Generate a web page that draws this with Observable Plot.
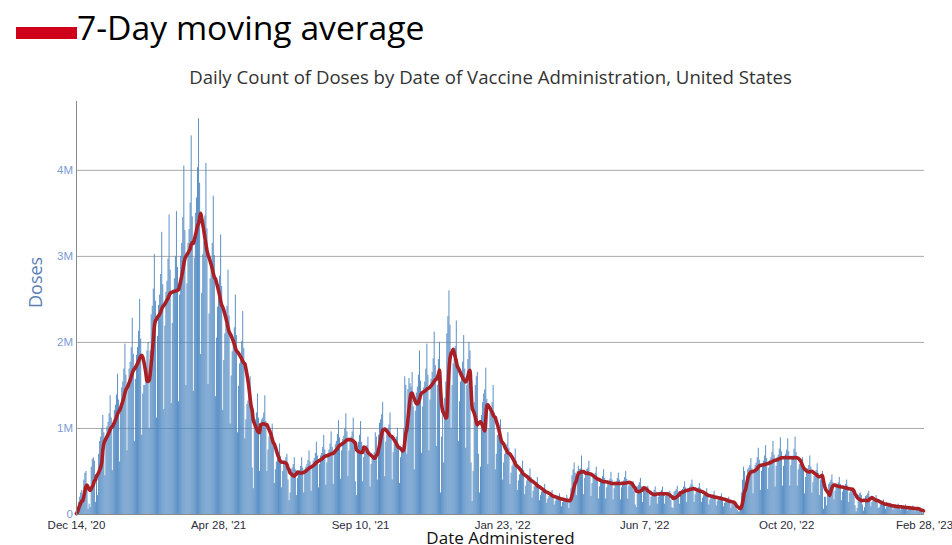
<!DOCTYPE html>
<html>
<head>
<meta charset="utf-8">
<script src="https://cdn.jsdelivr.net/npm/d3@7"></script>
<script src="https://cdn.jsdelivr.net/npm/@observablehq/plot@0.6"></script>
<style>
  html, body { margin: 0; padding: 0; background: #fff; }
  body { width: 952px; height: 545px; overflow: hidden; position: relative; font-family: "Open Sans", sans-serif; }
  #header { position: relative; height: 90px; }
  #legendSwatch { position: absolute; left: 16px; top: 27px; width: 61px; height: 12px; background: #d0021b; }
  #legendText { position: absolute; left: 77px; top: 10px; font-size: 33.7px; line-height: 34px; color: #000; white-space: nowrap; }
  #title { position: absolute; left: 490.5px; top: 68px; transform: translateX(-50%); font-size: 18.6px; line-height: 18px; color: #333; white-space: nowrap; }
  #chart svg { display: block; }
  #chart g[aria-label^="y-axis"] text { fill: #7b9bd6; }
  #chart g[aria-label^="x-axis"] text { fill: #2b2b3b; }
</style>
</head>
<body>
<div id="header">
  <div id="legendSwatch"></div>
  <div id="legendText">7-Day moving average</div>
  <div id="title">Daily Count of Doses by Date of Vaccine Administration, United States</div>
</div>
<div id="chart"></div>
<script>
// First day of the series (Monday, Dec 14 2020) and end of the x domain
const startDate = new Date(Date.UTC(2020, 11, 14));
const endDate = new Date(Date.UTC(2023, 1, 28));

// Daily doses administered, in units of 10,000 doses, one row per week (Mon..Sun)
const dosesTenThousands = [
  1, 6, 14, 20, 25, 28, 17,
  40, 48, 50, 32, 6, 12, 8,
  55, 64, 66, 62, 14, 42, 22,
  70, 85, 90, 100, 115, 95, 45,
  87, 102, 107, 117, 138, 112, 51,
  103, 121, 127, 139, 163, 133, 61,
  125, 147, 154, 169, 198, 162, 74,
  144, 169, 177, 194, 228, 186, 85,
  157, 185, 194, 213, 250, 204, 92,
  140, 150, 150, 160, 190, 200, 100,
  190, 232, 242, 262, 302, 248, 112,
  207, 243, 255, 279, 328, 267, 122,
  219, 258, 271, 297, 348, 284, 129,
  222, 261, 274, 300, 352, 287, 131,
  255, 300, 315, 345, 405, 330, 150,
  268, 315, 331, 362, 440, 346, 143,
  298, 350, 368, 403, 460, 385, 186,
  257, 302, 317, 347, 408, 332, 151,
  233, 274, 288, 315, 370, 301, 137,
  205, 241, 253, 277, 325, 265, 121,
  179, 210, 221, 242, 284, 231, 105,
  161, 189, 198, 217, 255, 208, 95,
  149, 175, 184, 201, 236, 193, 88,
  110, 128, 132, 138, 160, 125, 54,
  30, 105, 110, 118, 140, 112, 50,
  95, 110, 112, 118, 138, 108, 50,
  75, 90, 92, 95, 105, 80, 36,
  52, 61, 64, 70, 82, 67, 31,
  50, 60, 62, 66, 70, 40, 16,
  25, 52, 54, 58, 66, 52, 22,
  42, 49, 51, 56, 66, 54, 25,
  47, 55, 58, 63, 74, 61, 27,
  53, 62, 65, 71, 84, 68, 31,
  58, 68, 71, 78, 92, 75, 34,
  60, 71, 75, 82, 96, 78, 35,
  69, 81, 85, 93, 109, 89, 41,
  74, 87, 91, 100, 117, 96, 44,
  74, 87, 90, 96, 112, 85, 38,
  22, 76, 84, 92, 108, 84, 38,
  66, 74, 76, 80, 90, 72, 32,
  58, 66, 68, 72, 95, 90, 40,
  92, 106, 110, 116, 130, 98, 44,
  84, 96, 100, 104, 118, 90, 40,
  72, 82, 86, 90, 100, 77, 36,
  66, 72, 76, 100, 160, 150, 70,
  145, 158, 152, 148, 165, 125, 52,
  120, 141, 148, 162, 190, 155, 71,
  125, 147, 154, 169, 198, 162, 74,
  133, 157, 165, 181, 212, 173, 79,
  150, 180, 200, 25, 90, 120, 60,
  135, 154, 210, 230, 260, 220, 100,
  150, 175, 180, 195, 225, 180, 85,
  131, 154, 162, 177, 208, 169, 77,
  150, 180, 200, 190, 60, 15, 50,
  130, 150, 160, 165, 70, 25, 55,
  115, 130, 140, 145, 170, 134, 58,
  100, 118, 122, 130, 150, 118, 52,
  70, 92, 92, 96, 110, 84, 40,
  60, 70, 74, 81, 95, 77, 35,
  48, 56, 59, 64, 76, 62, 28,
  39, 46, 48, 53, 62, 51, 23,
  33, 39, 41, 45, 53, 43, 19,
  27, 32, 34, 37, 43, 35, 16,
  22, 26, 27, 30, 35, 29, 13,
  18, 21, 22, 24, 28, 23, 11,
  15, 18, 19, 21, 24, 20, 9,
  14, 16, 17, 18, 22, 18, 7,
  14, 30, 45, 52, 60, 48, 22,
  50, 56, 52, 53, 68, 48, 23,
  42, 50, 52, 54, 62, 48, 21,
  36, 43, 45, 48, 55, 42, 18,
  32, 38, 40, 44, 52, 42, 18,
  31, 36, 38, 41, 49, 40, 17,
  30, 37, 38, 42, 48, 40, 17,
  31, 37, 39, 43, 50, 41, 18,
  33, 36, 36, 36, 38, 27, 11,
  8, 32, 34, 37, 42, 32, 14,
  27, 30, 29, 30, 33, 23, 10,
  20, 24, 25, 28, 32, 26, 12,
  20, 25, 26, 28, 32, 25, 12,
  21, 24, 24, 25, 27, 16, 8,
  7, 26, 27, 29, 33, 26, 12,
  24, 28, 29, 32, 38, 31, 14,
  26, 30, 32, 35, 40, 33, 14,
  23, 27, 28, 31, 36, 30, 14,
  19, 22, 23, 25, 30, 24, 11,
  17, 20, 21, 23, 27, 22, 10,
  15, 18, 19, 21, 24, 20, 9,
  13, 15, 16, 17, 20, 17, 7,
  12, 13, 13, 8, 6, 5, 3,
  3, 10, 25, 40, 55, 50, 22,
  45, 52, 54, 57, 65, 53, 24,
  48, 57, 60, 66, 77, 63, 28,
  50, 59, 62, 68, 80, 65, 29,
  54, 63, 66, 72, 85, 69, 32,
  56, 66, 69, 76, 89, 73, 33,
  56, 67, 70, 75, 88, 73, 33,
  57, 66, 68, 76, 90, 72, 33,
  52, 58, 58, 60, 66, 53, 24,
  43, 50, 53, 57, 68, 55, 25,
  37, 44, 46, 51, 59, 48, 22,
  40, 47, 50, 6, 20, 20, 10,
  28, 35, 37, 40, 46, 37, 17,
  27, 32, 34, 37, 43, 35, 16,
  26, 30, 32, 35, 40, 33, 14,
  25, 29, 30, 31, 28, 10, 3,
  7, 22, 24, 25, 22, 11, 4,
  8, 21, 22, 24, 27, 20, 9,
  14, 16, 17, 18, 22, 18, 7,
  8, 13, 13, 14, 17, 13, 6,
  9, 10, 11, 11, 13, 11, 5,
  8, 9, 9, 10, 12, 10, 5,
  7, 8, 8, 9, 11, 9, 4,
  6, 7, 7, 8, 10, 8, 3,
  5, 7, 7, 6, 5, 3, 1,
  1
];

// Axis ticks
const tickDates = [
  new Date(Date.UTC(2020, 11, 14)),
  new Date(Date.UTC(2021, 3, 28)),
  new Date(Date.UTC(2021, 8, 10)),
  new Date(Date.UTC(2022, 0, 23)),
  new Date(Date.UTC(2022, 5, 7)),
  new Date(Date.UTC(2022, 9, 20)),
  new Date(Date.UTC(2023, 1, 28))
];
const tickLabels = ["Dec 14, '20", "Apr 28, '21", "Sep 10, '21", "Jan 23, '22", "Jun 7, '22", "Oct 20, '22", "Feb 28, '23"];
const yTickValues = [0, 1e6, 2e6, 3e6, 4e6];
const yTickLabels = ["0", "1M", "2M", "3M", "4M"];
const yMax = 4.8e6;
const xTitle = "Date Administered";
const yTitle = "Doses";

const rows = dosesTenThousands.map((v, i) => ({date: d3.utcDay.offset(startDate, i), doses: v * 1e4}));
const xLabelOf = new Map(tickDates.map((d, i) => [+d, tickLabels[i]]));
const yLabelOf = new Map(yTickValues.map((d, i) => [d, yTickLabels[i]]));

const chart = Plot.plot({
  width: 952,
  height: 455,
  marginTop: 11,
  marginBottom: 31,
  marginLeft: 76,
  marginRight: 28,
  style: {fontFamily: "'Liberation Sans', Arial, sans-serif", fontSize: "11.5px", background: "transparent", overflow: "visible"},
  x: {type: "utc", domain: [startDate, endDate], ticks: tickDates, tickFormat: d => xLabelOf.get(+d), tickSize: 0, tickPadding: 6, label: null},
  y: {domain: [0, yMax], ticks: yTickValues, tickFormat: d => yLabelOf.get(d), tickSize: 0, tickPadding: 3.5, label: null},
  marks: [
    Plot.ruleY(yTickValues.slice(1), {stroke: "#a9a9a9", strokeWidth: 1}),
    Plot.ruleX(rows, {x: "date", y: "doses", stroke: "#4a84c0", strokeWidth: 0.9}),
    Plot.lineY(rows, Plot.windowY({k: 7, anchor: "end", reduce: "mean", strict: false},
      {x: "date", y: "doses", stroke: "#a81f25", strokeWidth: 3.6, curve: "monotone-x"})),
    Plot.ruleX([startDate], {stroke: "#8a8a8a"}),
    Plot.ruleY([0], {stroke: "#8a8a8a"}),
    Plot.text([yTitle], {text: d => d, frameAnchor: "left", dx: -40, rotate: -90, fontSize: 18, fill: "#5a7fb5", fontFamily: "Open Sans"}),
    Plot.text([xTitle], {text: d => d, frameAnchor: "bottom", dy: 29, fontSize: 17, fill: "#111", fontFamily: "Open Sans"})
  ]
});
document.getElementById("chart").appendChild(chart);
</script>
</body>
</html>
